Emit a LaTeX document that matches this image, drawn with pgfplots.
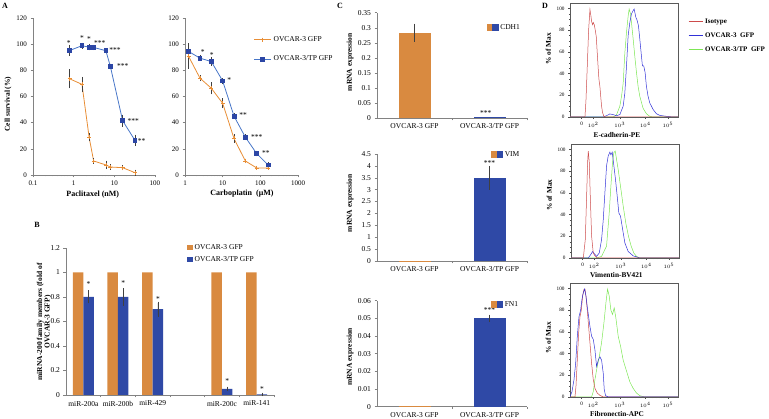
\documentclass[border=0pt]{standalone}
\usepackage{pgfplots}
\pgfplotsset{compat=1.18}
\usepackage{fontspec}
\setmainfont{Liberation Serif}
\definecolor{orL}{RGB}{232,142,54}
\definecolor{blL}{RGB}{72,118,200}
\definecolor{blM}{RGB}{44,70,165}
\definecolor{orB}{RGB}{217,138,64}
\definecolor{blB}{RGB}{47,73,166}
\definecolor{axg}{RGB}{130,130,130}
\definecolor{fRed}{RGB}{205,75,75}
\definecolor{fBlue}{RGB}{50,50,215}
\definecolor{fGreen}{RGB}{125,230,85}
\newcommand{\fs}[1]{\fontsize{#1}{#1}\selectfont}
\tikzset{star/.style={font=\fs{7.5}, inner sep=0pt}}
\pgfplotsset{
  excel/.style={scale only axis, anchor=south west, clip=false,
    axis x line*=bottom, axis y line*=left,
    axis line style={axg, line width=0.5pt},
    tick style={axg, line width=0.4pt}, tick align=outside,
    major tick length=2.5pt, minor tick length=1.5pt,
    tick label style={font=\fs{7.5}, text=black},
    xlabel style={font=\bfseries\fs{8}, anchor=center},
    ylabel style={font=\bfseries\fs{7.5}, anchor=center},
    /pgf/number format/assume math mode=true,
    scaled y ticks=false,
    legend cell align=left,
  },
  ebar/.style={error bars/.cd, y dir=both, y explicit,
    error bar style={black!75, line width=0.5pt},
    error mark options={black!75, mark size=1.6pt, line width=0.5pt}},
  sqleg/.style={legend image code/.code={\fill[##1] (0pt,-2.8pt) rectangle (5.6pt,2.8pt);}},
  flow/.style={scale only axis, anchor=south west, width=108pt, height=114pt,
    xmin=30, xmax=355, ymin=0, ymax=105,
    axis line style={black!65, line width=0.6pt},
    xtick pos=left, ytick pos=left, tick align=outside,
    major tick length=2pt, minor tick length=1.2pt,
    tick style={black!70, line width=0.3pt},
    xtick={65,100,180,257,325}, xticklabels={0,$10^2$,$10^3$,$10^4$,$10^5$},
    minor xtick={40,45,50,55,75,85,92,124.1,138.2,148.2,155.9,162.3,167.6,172.2,176.3,203.2,216.7,226.4,233.8,239.9,245.1,249.5,253.5,277.5,289.4,297.9,304.5,309.9,314.5,318.4,321.9},
    ytick={0,20,40,60,80,100}, minor y tick num=3,
    tick label style={font=\fs{5.2}},
    /pgf/number format/assume math mode=true,
    xlabel style={font=\bfseries\fs{7.3}, anchor=center},
    ylabel style={font=\bfseries\fs{7.3}, anchor=center},
    ylabel={\% of Max},
  },
}
\begin{document}
\begin{tikzpicture}
\path[use as bounding box] (0pt,0pt) rectangle (769pt,419pt);

% ---------- A left: Paclitaxel ----------
\begin{axis}[excel, at={(33pt,244pt)}, width=122pt, height=157pt,
  xmode=log, xmin=0.1, xmax=100, ymin=0, ymax=120,
  xtick={0.1,1,10,100}, xticklabels={0.1,1,10,100},
  minor xtick={0.2,0.3,0.4,0.5,0.6,0.7,0.8,0.9,2,3,4,5,6,7,8,9,20,30,40,50,60,70,80,90},
  ytick={0,20,40,60,80,100,120},
  tick label style={font=\fs{7}},
  xlabel={Paclitaxel (nM)}, ylabel={Cell survival (\%)},
  xlabel style={at={(axis description cs:0.49,-0.127)}},
  ylabel style={at={(axis description cs:-0.205,0.452)}},
]
\addplot[orL, line width=0.8pt, mark=+, mark size=2pt, mark options={orL, line width=0.7pt}, ebar] coordinates {
 (0.8,73.5) +- (0,6) (1.6,69.3) +- (0,4.5) (2.4,28.9) +- (0,2) (3.1,10.7) +- (0,0.8)
 (6.2,7.7) +- (0,2) (8,6.1) +- (0,0.8) (16,5.6) +- (0,0.6) (32,1.8) +- (0,1)};
\addplot[blL, line width=0.8pt, mark=square*, mark size=1.9pt, mark options={draw=blM, fill=blM}, ebar] coordinates {
 (0.8,95.2) +- (0,3) (1.6,98.8) +- (0,1) (2.4,97.7) +- (0,1.2) (3.1,97.5) +- (0,0.8)
 (6.2,95) +- (0,0.8) (8,82.9) +- (0,1) (16,41.5) +- (0,3.5) (32,26.6) +- (0,3)};
\node[star] at (axis cs:0.76,101) {*};
\node[star] at (axis cs:1.6,105) {*};
\node[star] at (axis cs:2.4,104) {*};
\node[star] at (axis cs:4.4,101) {***};
\node[star] at (axis cs:10.4,95.5) {***};
\node[star] at (axis cs:16,83.5) {***};
\node[star] at (axis cs:29,41) {***};
\node[star] at (axis cs:47,26) {**};
\end{axis}

% ---------- A right: Carboplatin ----------
\begin{axis}[excel, at={(185pt,244pt)}, width=113pt, height=157pt,
  xmode=log, xmin=1, xmax=1000, ymin=0, ymax=120,
  xtick={1,10,100,1000}, xticklabels={1,10,100,1000},
  minor xtick={2,3,4,5,6,7,8,9,20,30,40,50,60,70,80,90,200,300,400,500,600,700,800,900},
  ytick={0,20,40,60,80,100,120},
  tick label style={font=\fs{7}},
  xlabel={Carboplatin\ \ (μM)},
  xlabel style={at={(axis description cs:0.504,-0.121)}},
  legend style={at={(axis description cs:0.58,0.91)}, anchor=north west, draw=none, fill=none, font=\fs{7.5}, row sep=9pt},
]
\addplot[orL, line width=0.8pt, mark=+, mark size=2pt, mark options={orL, line width=0.7pt}, ebar] coordinates {
 (1.25,90.6) +- (0,8) (2.5,74) +- (0,1) (5,66.3) +- (0,3.5) (10,54.8) +- (0,2.5)
 (20,27.9) +- (0,2) (40,10.7) +- (0,0.5) (80,5.4) +- (0,0.3) (160,5.4) +- (0,0.3)};
\addlegendentry{OVCAR-3 GFP}
\addplot[blL, line width=0.8pt, mark=square*, mark size=1.9pt, mark options={draw=blM, fill=blM}, ebar] coordinates {
 (1.25,94.4) +- (0,5) (2.5,89.3) +- (0,1) (5,86.7) +- (0,2) (10,71.9) +- (0,1)
 (20,45) +- (0,1) (40,28.9) +- (0,1) (80,16.4) +- (0,1) (160,7.7) +- (0,1)};
\addlegendentry{OVCAR-3/TP GFP}
\node[star] at (axis cs:2.95,93.7) {*};
\node[star] at (axis cs:5.1,92) {*};
\node[star] at (axis cs:15,72.7) {*};
\node[star] at (axis cs:35,45.8) {**};
\node[star] at (axis cs:80,29) {***};
\node[star] at (axis cs:141,16.9) {**};
\end{axis}

% ---------- B ----------
\begin{axis}[excel, at={(66pt,24pt)}, width=208pt, height=147pt,
  ybar=0pt, bar width=10.5pt,
  xmin=-0.5, xmax=5.5, ymin=0, ymax=1.2,
  xtick={0,1,2,3,4,5}, xticklabels={miR-200a,miR-200b,miR-429,,miR-200c,miR-141},
  xtick style={draw=none},
  extra x ticks={0.5,1.5,2.5,3.5,4.5,5.5}, extra x tick labels={},
  extra x tick style={xtick style={draw=axg, line width=0.4pt}},
  ytick={0,0.2,0.4,0.6,0.8,1,1.2}, yticklabels={0,0.2,0.4,0.6,0.8,1,1.2},
  ylabel={miRNA-200 family members (fold of\\OVCAR-3 GFP)},
  ylabel style={align=center, at={(axis description cs:-0.106,0.497)}},
  legend style={at={(axis description cs:0.567,1.055)}, anchor=north west, draw=none, fill=none, font=\fs{7.5}, row sep=1.5pt},
]
\addplot[fill=orB, draw=none, sqleg] coordinates {(0,1) (1,1) (2,1) (4,1) (5,1)};
\addlegendentry{OVCAR-3 GFP}
\addplot[fill=blB, draw=none, sqleg, ebar] coordinates {
 (0,0.8) +- (0,0.04) (1,0.8) +- (0,0.06) (2,0.7) +- (0,0.05) (4,0.05) +- (0,0.005) (5,0.005) +- (0,0.002)};
\addlegendentry{OVCAR-3/TP GFP}
\node[star, xshift=5.25pt] at (axis cs:0,0.905) {*};
\node[star, xshift=5.25pt] at (axis cs:1,0.91) {*};
\node[star, xshift=5.25pt] at (axis cs:2,0.78) {*};
\node[star, xshift=5.25pt] at (axis cs:4,0.114) {*};
\node[star, xshift=5.25pt] at (axis cs:5,0.05) {*};
\end{axis}

% ---------- C1 ----------
\begin{axis}[excel, at={(377pt,301pt)}, width=150pt, height=105.3pt,
  xmin=-0.5, xmax=1.5, ymin=0, ymax=0.35,
  xtick={0,1}, xticklabels={OVCAR-3 GFP,OVCAR-3/TP GFP}, xtick style={draw=none},
  extra x ticks={0.5,1.5}, extra x tick labels={}, extra x tick style={xtick style={draw=axg, line width=0.4pt}},
  ytick={0,0.05,0.1,0.15,0.2,0.25,0.3,0.35}, yticklabels={0,0.05,0.1,0.15,0.2,0.25,0.3,0.35},
  ylabel={mRNA expression}, ylabel style={at={(axis description cs:-0.18,0.53)}},
  legend style={at={(axis description cs:0.71,0.93)}, anchor=north west, draw=none, fill=none, font=\fs{7.5}},
]
\addplot[ybar, bar width=32pt, bar shift=0pt, fill=orB, draw=none, forget plot, ebar] coordinates {(0,0.283) +- (0,0.025)};
\addplot[ybar, bar width=32pt, bar shift=0pt, fill=blB, draw=none, forget plot] coordinates {(1,0.002)};
\addlegendimage{legend image code/.code={\fill[orB] (0pt,-2.8pt) rectangle (5.6pt,2.8pt); \fill[blB] (5.6pt,-2.8pt) rectangle (11.2pt,2.8pt);}}
\addlegendentry{CDH1}
\node[star] at (axis cs:0.95,0.0176) {***};
\end{axis}

% ---------- C2 ----------
\begin{axis}[excel, at={(377pt,158pt)}, width=150pt, height=107pt,
  xmin=-0.5, xmax=1.5, ymin=0, ymax=4.5,
  xtick={0,1}, xticklabels={OVCAR-3 GFP,OVCAR-3/TP GFP}, xtick style={draw=none},
  extra x ticks={0.5,1.5}, extra x tick labels={}, extra x tick style={xtick style={draw=axg, line width=0.4pt}},
  ytick={0,0.5,1,1.5,2,2.5,3,3.5,4,4.5}, yticklabels={0,0.5,1,1.5,2,2.5,3,3.5,4,4.5},
  ylabel={mRNA expression}, ylabel style={at={(axis description cs:-0.18,0.54)}},
  legend style={at={(axis description cs:0.74,1.065)}, anchor=north west, draw=none, fill=none, font=\fs{7.5}},
]
\addplot[ybar, bar width=32pt, bar shift=0pt, fill=orB, draw=none, forget plot] coordinates {(0,0.02)};
\addplot[ybar, bar width=32pt, bar shift=0pt, fill=blB, draw=none, forget plot, ebar] coordinates {(1,3.5) +- (0,0.43)};
\addlegendimage{legend image code/.code={\fill[orB] (0pt,-2.8pt) rectangle (5.6pt,2.8pt); \fill[blB] (5.6pt,-2.8pt) rectangle (11.2pt,2.8pt);}}
\addlegendentry{VIM}
\node[star] at (axis cs:1,4.11) {***};
\end{axis}

% ---------- C3 ----------
\begin{axis}[excel, at={(377pt,12.3pt)}, width=150pt, height=106pt,
  xmin=-0.5, xmax=1.5, ymin=0, ymax=0.06,
  xtick={0,1}, xticklabels={OVCAR-3 GFP,OVCAR-3/TP GFP}, xtick style={draw=none},
  extra x ticks={0.5,1.5}, extra x tick labels={}, extra x tick style={xtick style={draw=axg, line width=0.4pt}},
  ytick={0,0.01,0.02,0.03,0.04,0.05,0.06}, yticklabels={0,0.01,0.02,0.03,0.04,0.05,0.06},
  ylabel={mRNA expression}, ylabel style={at={(axis description cs:-0.18,0.47)}},
  legend style={at={(axis description cs:0.74,1.035)}, anchor=north west, draw=none, fill=none, font=\fs{7.5}},
]
\addplot[ybar, bar width=32pt, bar shift=0pt, fill=orB, draw=none, forget plot] coordinates {(0,0.0005)};
\addplot[ybar, bar width=32pt, bar shift=0pt, fill=blB, draw=none, forget plot, ebar] coordinates {(1,0.05) +- (0,0.0012)};
\addlegendimage{legend image code/.code={\fill[orB] (0pt,-2.8pt) rectangle (5.6pt,2.8pt); \fill[blB] (5.6pt,-2.8pt) rectangle (11.2pt,2.8pt);}}
\addlegendentry{FN1}
\node[star] at (axis cs:1,0.0547) {***};
\end{axis}

% ---------- D1 ----------
\begin{axis}[flow, at={(570pt,302pt)},
  xlabel={E-cadherin-PE},
  xlabel style={at={(axis description cs:0.435,-0.158)}},
  ylabel style={at={(axis description cs:-0.2,0.6)}},
  legend style={at={(axis description cs:1.065,0.9)}, anchor=north west, draw=none, fill=none, font=\bfseries\fs{7}, row sep=4pt},
  legend cell align=left,
]
\addplot[fGreen, line width=0.5pt, forget plot] coordinates {(30,0)(160,0)(170,2)(180,10)(185,19)(190,31)(195,59)(200,78)(205,93)(208,99.4)(212,95)(216,84)(220,72)(225,56)(230,41)(235,28)(240,19)(250,8)(260,3)(270,0.6)(280,0)(355,0)};
\addplot[fBlue, line width=0.5pt, forget plot] coordinates {(30,0)(130,0)(140,1.2)(150,2.8)(160,2.2)(170,1.2)(180,2.2)(190,10)(195,22)(200,47)(205,75)(210,87)(215,95)(220,98)(223,99.4)(228,92)(232,89)(236,84)(240,72)(245,56)(248,47)(252,47)(256,41)(260,28)(265,19)(270,13)(280,7)(290,3)(300,1.5)(320,0.6)(340,0)(355,0)};
\addplot[fRed, line width=0.5pt, forget plot] coordinates {(30,0)(75,0)(78,15)(82,47)(86,80)(90,99)(93,93)(95,88)(98,85)(100,87)(103,85)(106,80)(109,74)(112,59)(115,44)(117,35)(120,28)(123,17)(125,10)(128,4)(132,0.6)(136,0)(355,0)};
\addlegendimage{legend image code/.code={\draw[fRed, line width=0.9pt] (0pt,0pt) -- (14pt,0pt);}}
\addlegendentry{Isotype}
\addlegendimage{legend image code/.code={\draw[fBlue, line width=0.9pt] (0pt,0pt) -- (14pt,0pt);}}
\addlegendentry{OVCAR-3\ \ GFP}
\addlegendimage{legend image code/.code={\draw[fGreen, line width=0.9pt] (0pt,0pt) -- (14pt,0pt);}}
\addlegendentry{OVCAR-3/TP\ \ GFP}
\end{axis}

% ---------- D2 ----------
\begin{axis}[flow, at={(571pt,161pt)},
  xlabel={Vimentin-BV421},
  xlabel style={at={(axis description cs:0.42,-0.15)}},
  ylabel style={at={(axis description cs:-0.2,0.55)}},
]
\addplot[fGreen, line width=0.5pt] coordinates {(30,0)(107,0)(122,1.5)(137,11)(145,41.5)(150,66)(155,88)(159,97)(163,98.5)(167,91)(172,81.5)(179,66)(187,48)(195,32)(203,20)(211,11)(219,4.6)(227,1.5)(237,0)(355,0)};
\addplot[fBlue, line width=0.5pt] coordinates {(30,0)(82,0)(89,3)(95,6)(100,4)(107,1.5)(115,4.6)(122,17)(127,35)(132,60)(137,85)(142,94)(147,97.5)(150,95)(154,97.5)(159,85)(164,72)(169,57)(174,41.5)(179,38.5)(184,29)(192,14)(202,6)(217,2)(237,0)(355,0)};
\addplot[fRed, line width=0.5pt] coordinates {(30,0)(67,0)(73,17)(77,57)(80,88)(82,98.5)(85,88)(88,57)(92,20)(97,4.6)(102,2)(109,0)(355,0)};
\end{axis}

% ---------- D3 ----------
\begin{axis}[flow, at={(570pt,22pt)},
  xlabel={Fibronectin-APC},
  xlabel style={at={(axis description cs:0.435,-0.15)}},
  ylabel style={at={(axis description cs:-0.2,0.52)}},
]
\addplot[fGreen, line width=0.5pt] coordinates {(30,0)(95,0)(100,5)(105,16)(110,25)(118,37)(125,50)(132,68)(138,86.5)(143,99.4)(148,93)(153,80)(158,76)(163,82)(168,73)(175,56)(182,47)(190,34)(200,24)(210,14)(220,8)(230,3.7)(240,1.2)(255,0)(355,0)};
\addplot[fRed, line width=0.5pt] coordinates {(30,0)(45,0)(48,10)(52,34)(56,59)(60,74)(64,80)(68,93)(72,99)(75,99.4)(78,93)(82,80)(86,65)(90,50)(95,31)(100,16)(105,8)(112,3.7)(120,1.5)(130,0)(355,0)};
\addplot[fBlue, line width=0.5pt] coordinates {(30,0)(36,5)(42,16)(47,31)(52,56)(57,74)(62,80)(66,90)(70,96)(74,99.4)(78,93)(82,83)(86,74)(90,65)(95,56)(100,53)(105,43.5)(110,28)(115,34)(120,37)(125,34)(130,22)(133,7)(137,1.2)(145,0)(355,0)};
\end{axis}

% panel letters
\node[font=\bfseries\fs{8}] at (5pt,413pt) {A};
\node[font=\bfseries\fs{8}] at (37pt,194pt) {B};
\node[font=\bfseries\fs{8}] at (340pt,413pt) {C};
\node[font=\bfseries\fs{8}] at (545pt,413pt) {D};
\end{tikzpicture}
\end{document}
